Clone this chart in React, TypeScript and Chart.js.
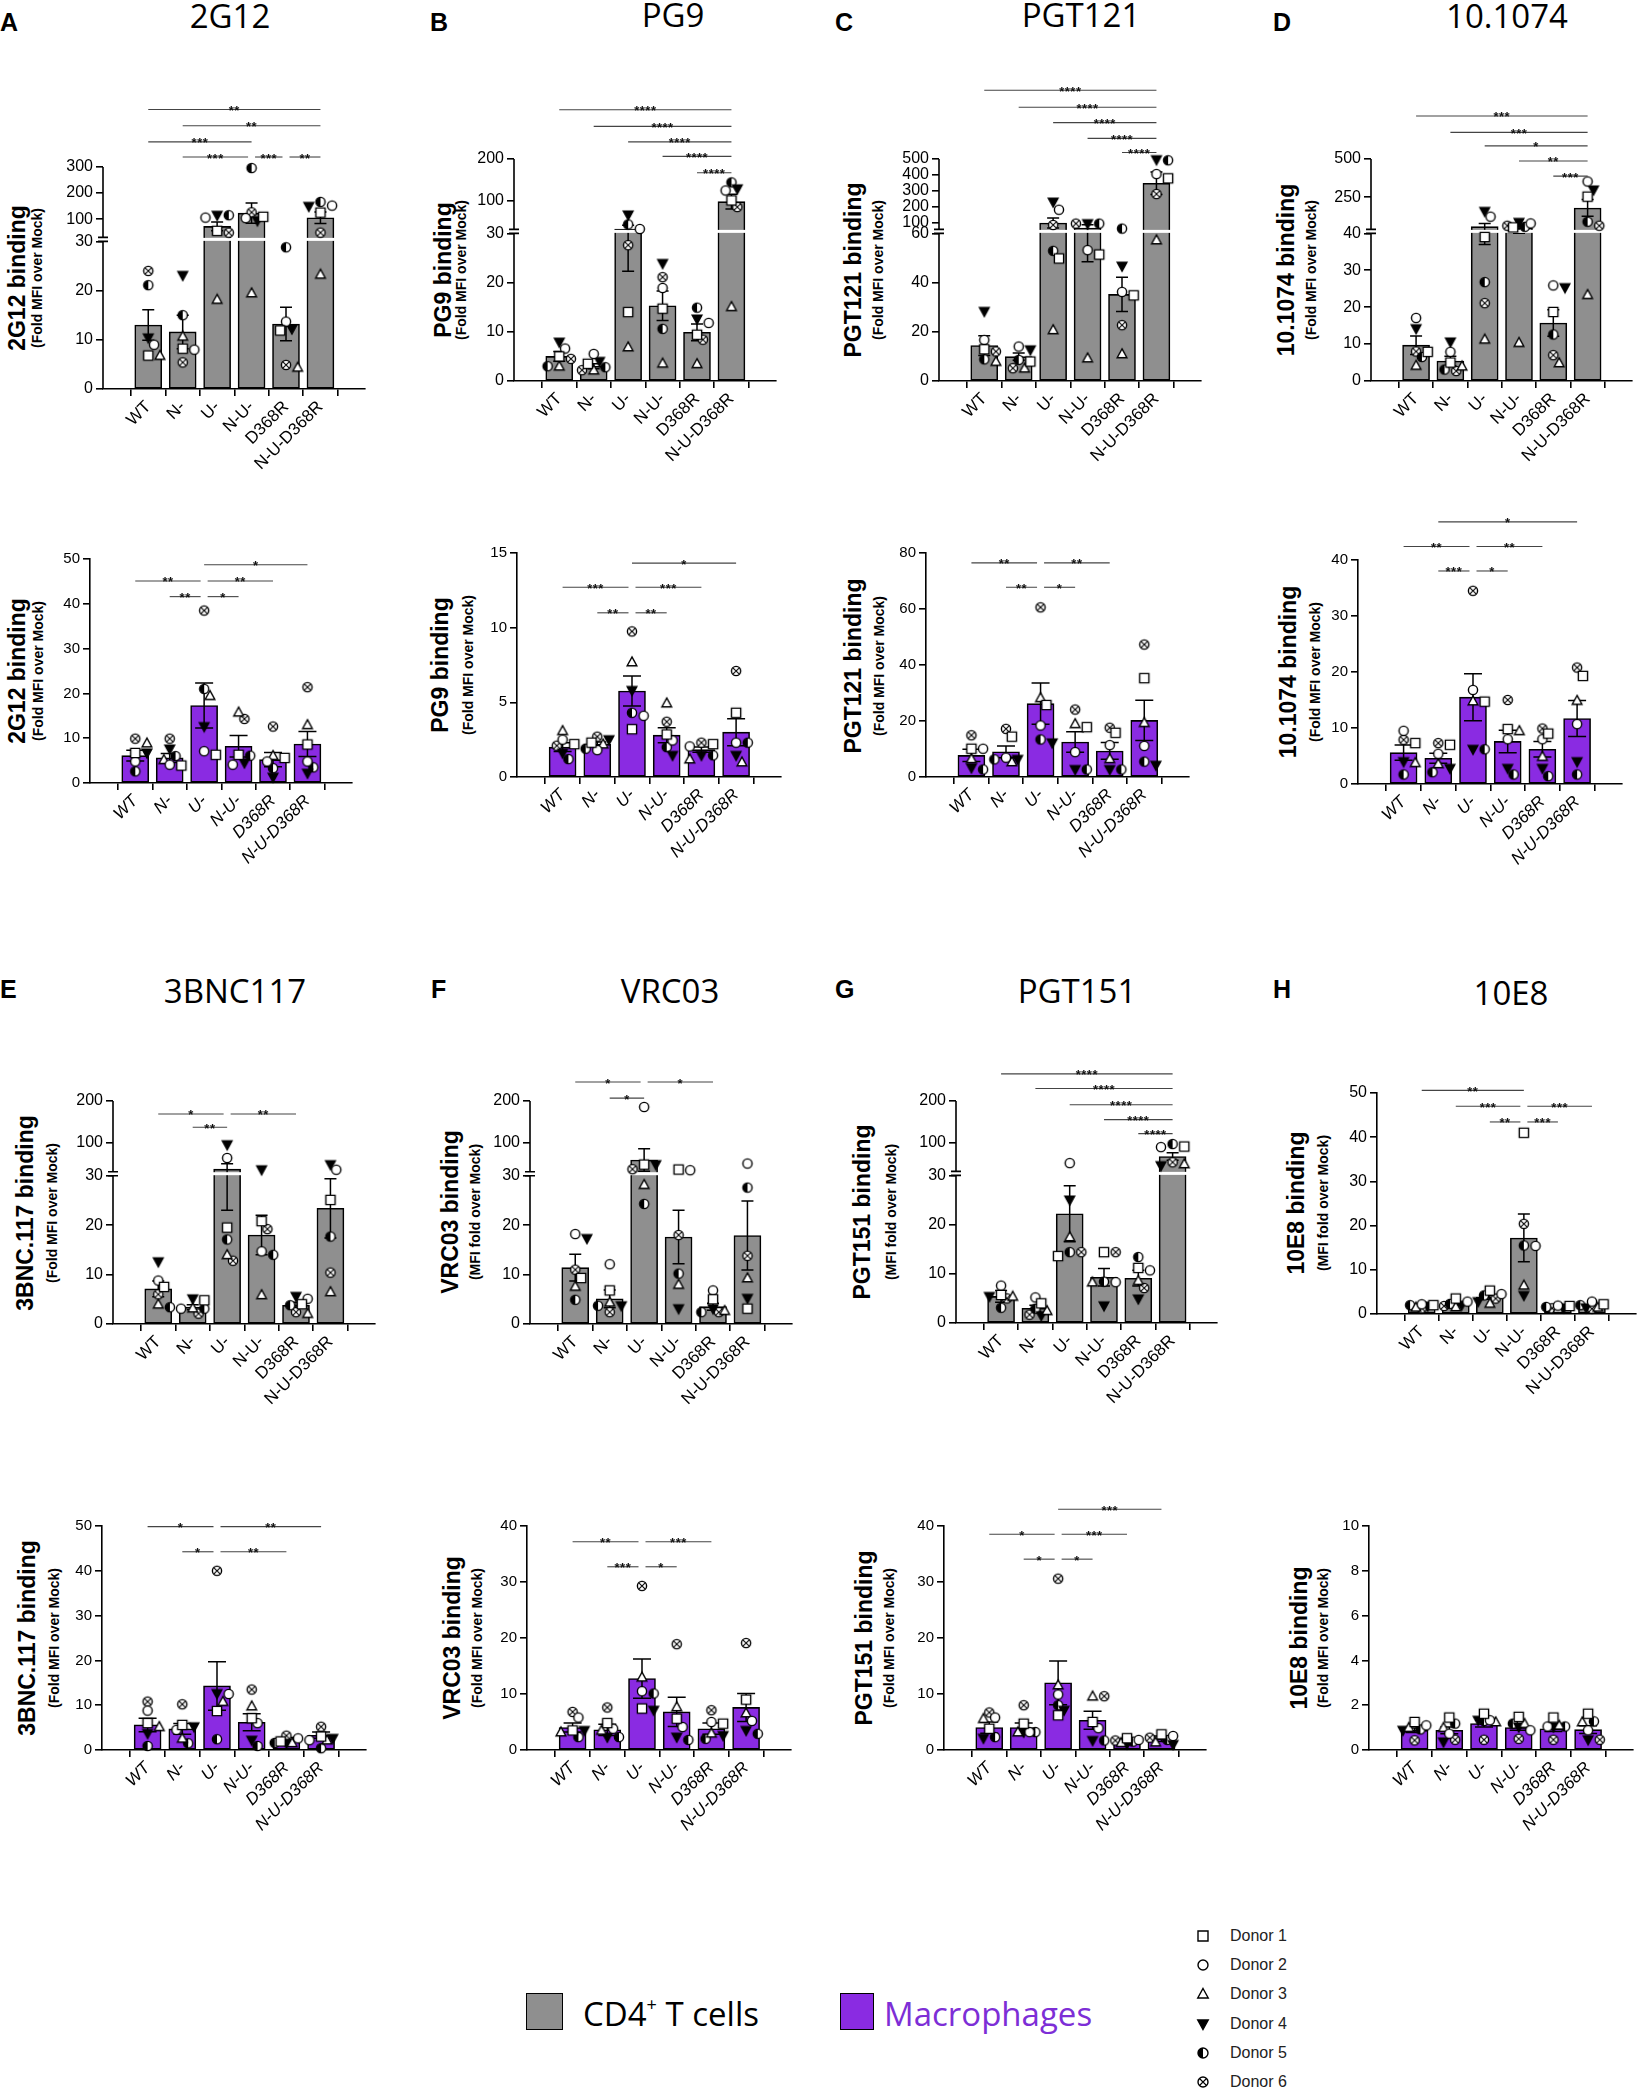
import React, { useEffect, useRef } from 'react';
import { Chart, registerables } from 'chart.js';

Chart.register(...registerables);

// ---------------- data ----------------
const CATEGORIES = ['WT', 'N-', 'U-', 'N-U-', 'D368R', 'N-U-D368R'];
const DONORS = ['Donor 1', 'Donor 2', 'Donor 3', 'Donor 4', 'Donor 5', 'Donor 6'];
const CELL_TYPES = ['CD4', 'Macrophages'];

// points: one row per category, columns = donors 1..6
// 2G12
const G12_CD4_MEAN = [13, 11.6, 72, 123, 13.2, 105];
const G12_CD4_SEM = [3.1, 3.4, 17, 39, 3.4, 22];
const G12_CD4_PTS = [[6.8, 9, 6.8, 10.4, 21.1, 24], [8.2, 8, 10.7, 23.1, 15, 5.4], [55, 106, 18.2, 115, 115, 48], [109, 104, 19.5, 94, 296, 126], [11.9, 13.7, 4.4, 12.2, 28.8, 4.9], [125, 152, 23.3, 149, 166, 48]];
const G12_CD4_TICKS_LO = [0, 10, 20, 30];
const G12_CD4_TICKS_HI = [100, 200, 300];
const G12_CD4_SIG = [[0, 5, '**', 1.259], [1, 5, '**', 1.186], [0, 3, '***', 1.113], [1, 3, '***', 1.045], [3, 4, '***', 1.045], [4, 5, '**', 1.045]];
const G12_MAC_MEAN = [6.1, 5.6, 17.3, 8.2, 5.2, 8.7];
const G12_MAC_SEM = [1.2, 1, 5, 2.4, 1.6, 2.8];
const G12_MAC_PTS = [[6.7, 4.8, 8.9, 6.7, 2.6, 9.9], [3.9, 4.1, 5.2, 7.6, 6, 9.9], [6.3, 7.1, 19.5, 12.6, 21, 38.5], [6.3, 4.1, 15.8, 4.5, 6.1, 14.3], [5.6, 4.8, 6.1, 1.3, 3.3, 12.6], [8.6, 4.8, 13, 2.2, 3.5, 21.4]];
const G12_MAC_TICKS = [0, 10, 20, 30, 40, 50];
const G12_MAC_SIG = [[2, 5, '*', 0.974], [0, 2, '**', 0.902], [2, 4, '**', 0.902], [1, 2, '**', 0.832], [2, 3, '*', 0.832]];

// PG9
const PG9_CD4_MEAN = [5, 3, 31, 15.3, 9.9, 97];
const PG9_CD4_SEM = [1, 0.5, 8.7, 3, 1.7, 18];
const PG9_CD4_PTS = [[5, 6.6, 3, 7.9, 3, 4.5], [3.5, 5.5, 2.2, 4, 2.8, 2.2], [14, 31, 6.9, 65, 42, 27.6], [14.7, 18.9, 3.6, 23.9, 10.6, 21.1], [9.4, 11.8, 3.5, 12.6, 14.9, 8.4], [100, 124, 15.1, 128, 143.5, 84]];
const PG9_CD4_TICKS_LO = [0, 10, 20, 30];
const PG9_CD4_TICKS_HI = [100, 200];
const PG9_CD4_SIG = [[0, 5, '****', 1.222], [1, 5, '****', 1.147], [2, 5, '****', 1.077], [3, 5, '****', 1.012], [4, 5, '****', 0.938]];
const PG9_MAC_MEAN = [2.0, 2.2, 5.76, 2.8, 1.83, 3.0];
const PG9_MAC_SEM = [0.3, 0.15, 1.0, 0.5, 0.18, 0.9];
const PG9_MAC_PTS = [[2.2, 2.5, 3.1, 1.6, 1.2, 2.1], [2.3, 1.8, 2.2, 2.5, 1.9, 2.7], [3.2, 4.1, 7.7, 5.8, 4.3, 9.75], [2.85, 2.45, 4.95, 1.45, 2, 3.7], [2.2, 2.05, 1.2, 1.45, 1.45, 2.3], [4.3, 2.3, 1.0, 1.45, 2.3, 7.1]];
const PG9_MAC_TICKS = [0, 5, 10, 15];
const PG9_MAC_SIG = [[2, 5, '*', 0.955], [0, 2, '***', 0.847], [2, 4, '***', 0.847], [1, 2, '**', 0.733], [2, 3, '**', 0.733]];

// PGT121
const P121_CD4_MEAN = [14.4, 9.9, 100, 68.5, 35.2, 348];
const P121_CD4_SEM = [4, 1.5, 31, 20, 7, 70];
const P121_CD4_PTS = [[12.9, 16.7, 7.9, 28.3, 8.8, 12], [7.9, 14, 5.2, 12.7, 8.6, 5.2], [49.8, 183, 20.8, 231, 52.9, 87.5], [51.4, 53.2, 9.3, 96, 96, 96], [34.8, 36.2, 11, 46.7, 65, 22.7], [379, 406, 57.3, 496, 492, 281]];
const P121_CD4_TICKS_LO = [0, 20, 40, 60];
const P121_CD4_TICKS_HI = [100, 200, 300, 400, 500];
const P121_CD4_SIG = [[0, 5, '****', 1.31], [1, 5, '****', 1.233], [2, 5, '****', 1.164], [3, 5, '****', 1.093], [4, 5, '****', 1.029]];
const P121_MAC_MEAN = [7.7, 9.0, 26.2, 12.5, 9.3, 20.2];
const P121_MAC_SEM = [2.2, 2.1, 7.4, 3.7, 3, 7.2];
const P121_MAC_PTS = [[10.1, 10.1, 6.5, 3.3, 2.7, 14.9], [14.4, 6.9, 5.4, 6.3, 6.3, 17.2], [25.7, 18.4, 28.3, 12.2, 13.4, 60.6], [17.8, 8.9, 19, 2.7, 2.7, 24.1], [15.8, 11.4, 6.5, 2.7, 2.7, 17.6], [35.3, 11.1, 19.4, 4.2, 5.5, 47.3]];
const P121_MAC_TICKS = [0, 20, 40, 60, 80];
const P121_MAC_SIG = [[0, 2, '**', 0.956], [2, 4, '**', 0.956], [1, 2, '**', 0.847], [2, 3, '*', 0.847]];

// 10.1074
const M1074_CD4_MEAN = [9.7, 5.4, 58, 50, 15.7, 180];
const M1074_CD4_SEM = [2.5, 1.3, 21, 10, 3.6, 55];
const M1074_CD4_PTS = [[7.9, 17.1, 4.2, 14.2, 6.5, 8], [5, 7.9, 4, 10.6, 3.1, 2.7], [39, 123, 11.3, 158, 26.8, 21.1], [53, 79, 10.4, 86, 57, 64], [18.7, 25.9, 4.9, 25.3, 12.6, 7], [254, 353, 23.4, 298, 90, 64]];
const M1074_CD4_TICKS_LO = [0, 10, 20, 30, 40];
const M1074_CD4_TICKS_HI = [250, 500];
const M1074_CD4_SIG = [[0, 5, '***', 1.194], [1, 5, '***', 1.12], [2, 5, '*', 1.059], [3, 5, '**', 0.991], [4, 5, '***', 0.923]];
const M1074_MAC_MEAN = [5.6, 4.6, 15.5, 7.6, 6.2, 11.7];
const M1074_MAC_SEM = [1.35, 0.9, 4.2, 2, 1.4, 3.2];
const M1074_MAC_PTS = [[7.3, 9.5, 3.8, 4, 1.7, 7.9], [7, 5.4, 3.6, 2.8, 2.1, 7.3], [14.7, 16.8, 14.8, 6.2, 6.2, 34.5], [9.8, 8, 9.5, 2.8, 1.7, 15], [9, 8, 4.9, 2.8, 1.4, 9.9], [19.3, 10.7, 14.9, 4, 1.7, 20.8]];
const M1074_MAC_TICKS = [0, 10, 20, 30, 40];
const M1074_MAC_SIG = [[1, 5, '*', 1.17], [0, 2, '**', 1.06], [2, 4, '**', 1.06], [1, 2, '***', 0.951], [2, 3, '*', 0.951]];

// 3BNC117
const B117_CD4_MEAN = [7.1, 3.4, 36, 18, 3.8, 23.4];
const B117_CD4_SEM = [1.6, 0.5, 13, 4, 0.6, 6];
const B117_CD4_PTS = [[7.5, 8.8, 4, 12.6, 3.4, 6], [4.8, 3.1, 3.2, 5.1, 3.1, 2.1], [19.5, 63, 14, 95, 17.1, 12.8], [20.8, 14.7, 5.9, 34.8, 14, 19.2], [4, 5.1, 2.1, 5.6, 3.8, 2.4], [25.1, 34.8, 6.5, 47, 17.7, 10.4]];
const B117_CD4_TICKS_LO = [0, 10, 20, 30];
const B117_CD4_TICKS_HI = [100, 200];
const B117_CD4_SIG = [[0, 2, '*', 0.942], [1, 2, '**', 0.882], [2, 4, '**', 0.942]];
const B117_MAC_MEAN = [5.6, 4.7, 14.3, 6.2, 2.4, 3.3];
const B117_MAC_SEM = [1.5, 1.2, 5.4, 1.9, 0.4, 0.7];
const B117_MAC_PTS = [[6, 8.8, 5.2, 3.7, 0.9, 10.8], [5.6, 4.5, 2.6, 5.2, 1.5, 10.2], [8.7, 12.5, 10.8, 12.6, 2.4, 40], [7.1, 6, 9.8, 2.2, 0.9, 13.5], [1.9, 2.6, 1.6, 1.5, 1.6, 3.2], [3, 2.2, 2.2, 2.6, 0.4, 5.2]];
const B117_MAC_TICKS = [0, 10, 20, 30, 40, 50];
const B117_MAC_SIG = [[0, 2, '*', 0.997], [2, 5, '**', 0.997], [1, 2, '*', 0.885], [2, 4, '**', 0.885]];

// VRC03
const VRC03_CD4_MEAN = [11.4, 5.1, 58, 17.6, 3.5, 17.9];
const VRC03_CD4_SEM = [2.7, 1.8, 27, 5.4, 0.7, 7];
const VRC03_CD4_PTS = [[9.3, 18.2, 7.6, 17.3, 4.9, 11], [6.8, 12.1, 4.4, 3.7, 3.7, 2.4], [47, 185.6, 28.2, 47, 24.3, 36], [35.2, 33.6, 8, 3.1, 10.2, 18], [5, 6.8, 2.7, 3.1, 2.4, 2.4], [3.1, 49.6, 9.3, 5.2, 27.6, 13.8]];
const VRC03_CD4_TICKS_LO = [0, 10, 20, 30];
const VRC03_CD4_TICKS_HI = [100, 200];
const VRC03_CD4_SIG = [[0, 2, '*', 1.085], [1, 2, '*', 1.013], [2, 4, '*', 1.085]];
const VRC03_MAC_MEAN = [4, 3.6, 12.75, 6.8, 3.8, 7.6];
const VRC03_MAC_SEM = [0.8, 1, 3.5, 2.6, 1, 2.5];
const VRC03_MAC_PTS = [[3.5, 5.8, 3.2, 3.5, 2.3, 6.8], [4.8, 3.8, 3.5, 2.3, 2.3, 7.6], [7.4, 10.5, 13, 7.1, 10.1, 29.3], [5.6, 4.1, 7.7, 2.3, 1.8, 18.9], [4.7, 5, 3, 2.6, 2, 7.1], [9, 5.2, 6.6, 3.5, 2.9, 19.1]];
const VRC03_MAC_TICKS = [0, 10, 20, 30, 40];
const VRC03_MAC_SIG = [[0, 2, '**', 0.93], [2, 4, '***', 0.93], [1, 2, '***', 0.818], [2, 3, '*', 0.818]];

// PGT151
const P151_CD4_MEAN = [5.4, 3, 22.2, 9.3, 9.1, 66];
const P151_CD4_SEM = [1.2, 0.6, 5.7, 1.8, 1.6, 9];
const P151_CD4_PTS = [[5.7, 7.6, 5.4, 5.4, 3.1, 5], [4, 5.2, 2.5, 1.5, 2.9, 1.7], [13.6, 50, 17.5, 25, 14.4, 14.4], [14.4, 8.3, 8.3, 3.5, 8.4, 14.4], [11.2, 10.7, 8.6, 4.9, 13.4, 7.1], [90, 88.7, 48, 44, 96, 52]];
const P151_CD4_TICKS_LO = [0, 10, 20, 30];
const P151_CD4_TICKS_HI = [100, 200];
const P151_CD4_SIG = [[0, 5, '****', 1.122], [1, 5, '****', 1.056], [2, 5, '****', 0.983], [3, 5, '****', 0.916], [4, 5, '****', 0.853]];
const P151_MAC_MEAN = [4, 4, 12, 5.3, 1.6, 2];
const P151_MAC_SEM = [1, 0.8, 3.9, 1.6, 0.3, 0.5];
const P151_MAC_PTS = [[3.8, 5.8, 5.6, 2.1, 2.3, 6.7], [4.7, 3.2, 3.2, 3.2, 3.2, 8], [6.2, 9.9, 11.6, 7.1, 8, 30.6], [5, 3.9, 9.6, 1.7, 1.7, 9.6], [2.1, 1.8, 1.3, 1.1, 1.5, 1.7], [2.8, 2.5, 1.4, 1.0, 1.8, 2.2]];
const P151_MAC_TICKS = [0, 10, 20, 30, 40];
const P151_MAC_SIG = [[2, 5, '***', 1.075], [0, 2, '*', 0.963], [2, 4, '***', 0.963], [1, 2, '*', 0.852], [2, 3, '*', 0.852]];

// 10E8
const E8_CD4_MEAN = [1.8, 2.3, 3.8, 17.2, 1.5, 1.85];
const E8_CD4_SEM = [0.15, 0.3, 0.45, 5.4, 0.12, 0.25];
const E8_CD4_PTS = [[2, 2.2, 1.5, 1.8, 2.0, 1.3], [3.5, 2.8, 1.6, 2.0, 2.3, 1.8], [5.3, 4.5, 2.4, 2.8, 4.2, 3.5], [41, 15.4, 6.5, 4.2, 15.5, 20.4], [1.8, 1.9, 1.2, 1.4, 1.6, 1.3], [2.2, 2.8, 1.5, 1.4, 2.0, 1.2]];
const E8_CD4_TICKS = [0, 10, 20, 30, 40, 50];
const E8_CD4_SIG = [[0, 3, '**', 1.012], [1, 3, '***', 0.94], [3, 5, '***', 0.94], [2, 3, '**', 0.869], [3, 4, '***', 0.869]];
const E8_MAC_MEAN = [0.88, 0.88, 1.18, 1.0, 0.95, 0.91];
const E8_MAC_SEM = [0.1, 0.15, 0.15, 0.12, 0.12, 0.17];
const E8_MAC_PTS = [[1.25, 1.1, 1.0, 0.88, 0.92, 0.43], [1.45, 0.73, 1.0, 0.36, 1.18, 0.46], [1.62, 1.33, 1.25, 1.33, 1.3, 0.46], [1.48, 0.88, 1.18, 1.03, 1.18, 0.5], [1.45, 1.05, 1.1, 1.03, 1.05, 0.46], [1.62, 0.88, 1.25, 0.46, 1.28, 0.46]];
const E8_MAC_TICKS = [0, 2, 4, 6, 8, 10];
const E8_MAC_SIG: any[] = [];

// ---------------- styles / layout ----------------
const GRAY = '#8f8f8f';
const PURPLE = '#8a2be2';
const PADL = 50, PADR = 14, PADT = 140, PADB = 115;
const XMIN = -0.68, XMAX = 5.66;
const LF = 0.665, GAP = 0.018;
const FONT = "'Liberation Sans', Arial, sans-serif";
const NARROW = "'Liberation Sans Narrow', 'Liberation Sans', Arial, sans-serif";
const TITLE_FONT = "'Open Sans', 'Noto Sans', sans-serif";
const SUB_FOLD = '(Fold MFI over Mock)';
const SUB_MFI = '(MFI fold over Mock)';

type Axis = { brk?: number; top?: number; lo?: number[]; hi?: number[]; max?: number; ticks?: number[] };
type PanelDef = {
  key: string; cell: number; mean: number[]; sem: number[]; pts: number[][]; sig: any[]; axis: Axis;
  L: number; T: number; B: number; W: number; ytitle: [string, string]; ytx: [number, number];
};

const PANELS: PanelDef[] = [
  { key: 'A1', cell: 0, mean: G12_CD4_MEAN, sem: G12_CD4_SEM, pts: G12_CD4_PTS, sig: G12_CD4_SIG, axis: { brk: 30, top: 300, lo: G12_CD4_TICKS_LO, hi: G12_CD4_TICKS_HI }, L: 102.7, T: 166.7, B: 388.3, W: 262, ytitle: ['2G12 binding', SUB_FOLD], ytx: [17, 37] },
  { key: 'B1', cell: 0, mean: PG9_CD4_MEAN, sem: PG9_CD4_SEM, pts: PG9_CD4_PTS, sig: PG9_CD4_SIG, axis: { brk: 30, top: 200, lo: PG9_CD4_TICKS_LO, hi: PG9_CD4_TICKS_HI }, L: 514.3, T: 158.7, B: 380.7, W: 262, ytitle: ['PG9 binding', SUB_FOLD], ytx: [443, 461] },
  { key: 'C1', cell: 0, mean: P121_CD4_MEAN, sem: P121_CD4_SEM, pts: P121_CD4_PTS, sig: P121_CD4_SIG, axis: { brk: 60, top: 500, lo: P121_CD4_TICKS_LO, hi: P121_CD4_TICKS_HI }, L: 938.7, T: 159.3, B: 381, W: 262, ytitle: ['PGT121 binding', SUB_FOLD], ytx: [853, 878] },
  { key: 'D1', cell: 0, mean: M1074_CD4_MEAN, sem: M1074_CD4_SEM, pts: M1074_CD4_PTS, sig: M1074_CD4_SIG, axis: { brk: 40, top: 500, lo: M1074_CD4_TICKS_LO, hi: M1074_CD4_TICKS_HI }, L: 1370.7, T: 158.7, B: 380.7, W: 261, ytitle: ['10.1074 binding', SUB_FOLD], ytx: [1286, 1311] },
  { key: 'A2', cell: 1, mean: G12_MAC_MEAN, sem: G12_MAC_SEM, pts: G12_MAC_PTS, sig: G12_MAC_SIG, axis: { max: 50, ticks: G12_MAC_TICKS }, L: 90.2, T: 559.3, B: 783.3, W: 262, ytitle: ['2G12 binding', SUB_FOLD], ytx: [17, 38] },
  { key: 'B2', cell: 1, mean: PG9_MAC_MEAN, sem: PG9_MAC_SEM, pts: PG9_MAC_PTS, sig: PG9_MAC_SIG, axis: { max: 15, ticks: PG9_MAC_TICKS }, L: 516.5, T: 552.7, B: 776.7, W: 264, ytitle: ['PG9 binding', SUB_FOLD], ytx: [440, 468] },
  { key: 'C2', cell: 1, mean: P121_MAC_MEAN, sem: P121_MAC_SEM, pts: P121_MAC_PTS, sig: P121_MAC_SIG, axis: { max: 80, ticks: P121_MAC_TICKS }, L: 925.5, T: 553.3, B: 777.7, W: 263, ytitle: ['PGT121 binding', SUB_FOLD], ytx: [853, 879] },
  { key: 'D2', cell: 1, mean: M1074_MAC_MEAN, sem: M1074_MAC_SEM, pts: M1074_MAC_PTS, sig: M1074_MAC_SIG, axis: { max: 40, ticks: M1074_MAC_TICKS }, L: 1358.1, T: 560, B: 784, W: 264, ytitle: ['10.1074 binding', SUB_FOLD], ytx: [1288, 1315] },
  { key: 'E1', cell: 0, mean: B117_CD4_MEAN, sem: B117_CD4_SEM, pts: B117_CD4_PTS, sig: B117_CD4_SIG, axis: { brk: 30, top: 200, lo: B117_CD4_TICKS_LO, hi: B117_CD4_TICKS_HI }, L: 113, T: 1101, B: 1324.3, W: 262, ytitle: ['3BNC.117 binding', SUB_FOLD], ytx: [25, 52] },
  { key: 'F1', cell: 0, mean: VRC03_CD4_MEAN, sem: VRC03_CD4_SEM, pts: VRC03_CD4_PTS, sig: VRC03_CD4_SIG, axis: { brk: 30, top: 200, lo: VRC03_CD4_TICKS_LO, hi: VRC03_CD4_TICKS_HI }, L: 529.7, T: 1100.7, B: 1323.3, W: 262, ytitle: ['VRC03 binding', SUB_MFI], ytx: [450, 475] },
  { key: 'G1', cell: 0, mean: P151_CD4_MEAN, sem: P151_CD4_SEM, pts: P151_CD4_PTS, sig: P151_CD4_SIG, axis: { brk: 30, top: 200, lo: P151_CD4_TICKS_LO, hi: P151_CD4_TICKS_HI }, L: 955.7, T: 1100.7, B: 1322.3, W: 261, ytitle: ['PGT151 binding', SUB_MFI], ytx: [862, 891] },
  { key: 'H1', cell: 0, mean: E8_CD4_MEAN, sem: E8_CD4_SEM, pts: E8_CD4_PTS, sig: E8_CD4_SIG, axis: { max: 50, ticks: E8_CD4_TICKS }, L: 1376.7, T: 1092.7, B: 1313.7, W: 259, ytitle: ['10E8 binding', SUB_MFI], ytx: [1296, 1323] },
  { key: 'E2', cell: 1, mean: B117_MAC_MEAN, sem: B117_MAC_SEM, pts: B117_MAC_PTS, sig: B117_MAC_SIG, axis: { max: 50, ticks: B117_MAC_TICKS }, L: 102.3, T: 1526, B: 1750, W: 264, ytitle: ['3BNC.117 binding', SUB_FOLD], ytx: [27, 54] },
  { key: 'F2', cell: 1, mean: VRC03_MAC_MEAN, sem: VRC03_MAC_SEM, pts: VRC03_MAC_PTS, sig: VRC03_MAC_SIG, axis: { max: 40, ticks: VRC03_MAC_TICKS }, L: 527, T: 1526, B: 1749.7, W: 264, ytitle: ['VRC03 binding', SUB_FOLD], ytx: [452, 477] },
  { key: 'G2', cell: 1, mean: P151_MAC_MEAN, sem: P151_MAC_SEM, pts: P151_MAC_PTS, sig: P151_MAC_SIG, axis: { max: 40, ticks: P151_MAC_TICKS }, L: 943.9, T: 1526, B: 1749.7, W: 262, ytitle: ['PGT151 binding', SUB_FOLD], ytx: [864, 889] },
  { key: 'H2', cell: 1, mean: E8_MAC_MEAN, sem: E8_MAC_SEM, pts: E8_MAC_PTS, sig: E8_MAC_SIG, axis: { max: 10, ticks: E8_MAC_TICKS }, L: 1368.6, T: 1526, B: 1749.7, W: 264, ytitle: ['10E8 binding', SUB_FOLD], ytx: [1299, 1323] },
];

const LETTERS: [string, number, number][] = [
  ['A', 0, 31], ['B', 430, 31], ['C', 835, 31], ['D', 1273, 31],
  ['E', 0, 998], ['F', 431, 998], ['G', 835, 998], ['H', 1273, 998],
];
const TITLES: [string, number, number][] = [
  ['2G12', 230, 28], ['PG9', 673, 27], ['PGT121', 1081, 27], ['10.1074', 1507, 28],
  ['3BNC117', 235, 1003], ['VRC03', 670, 1003], ['PGT151', 1077, 1003], ['10E8', 1511, 1005],
];

// ---------------- helpers ----------------
function makeF(ax: Axis) {
  if (ax.max !== undefined) return (v: number) => v / (ax.max as number);
  const brk = ax.brk as number, top = ax.top as number;
  return (v: number) => (v <= brk ? (v / brk) * LF : LF + GAP + ((v - brk) / (top - brk)) * (1 - LF - GAP));
}

function swarm(vals: number[], f: (v: number) => number, plotH: number, pxPerCat: number) {
  const n = vals.length;
  const ys = vals.map((v) => f(v) * plotH);
  const order = Array.from({ length: n }, (_, i) => i).sort((a, b) => ys[b] - ys[a]);
  const placed: { x: number; y: number }[] = [];
  const res = new Array(n).fill(0);
  const D = 7, R = 8.5;
  const cands = [0, D, -D, 2 * D, -2 * D];
  for (const i of order) {
    let chosen = 0, bestScore = -1;
    for (const c of cands) {
      const md = placed.length ? Math.min(...placed.map((p) => Math.hypot(p.x - c, p.y - ys[i]))) : 1e9;
      if (md >= R) { chosen = c; bestScore = 1e9; break; }
      if (md > bestScore) { bestScore = md; chosen = c; }
    }
    placed.push({ x: chosen, y: ys[i] });
    res[i] = chosen / pxPerCat;
  }
  return res;
}

function drawMarker(g: CanvasRenderingContext2D, kind: number, cx: number, cy: number, r: number) {
  g.save();
  g.lineWidth = 1.4;
  g.strokeStyle = '#000';
  g.fillStyle = '#fff';
  g.beginPath();
  if (kind === 0) {
    g.rect(cx - r, cy - r, 2 * r, 2 * r); g.fill(); g.stroke();
  } else if (kind === 1) {
    g.arc(cx, cy, r, 0, Math.PI * 2); g.fill(); g.stroke();
  } else if (kind === 2) {
    g.moveTo(cx, cy - r * 1.1); g.lineTo(cx + r * 1.05, cy + r * 0.8); g.lineTo(cx - r * 1.05, cy + r * 0.8); g.closePath(); g.fill(); g.stroke();
  } else if (kind === 3) {
    g.fillStyle = '#000';
    g.moveTo(cx, cy + r * 1.1); g.lineTo(cx + r * 1.05, cy - r * 0.8); g.lineTo(cx - r * 1.05, cy - r * 0.8); g.closePath(); g.fill(); g.stroke();
  } else if (kind === 4) {
    g.arc(cx, cy, r, 0, Math.PI * 2); g.fill();
    g.beginPath(); g.arc(cx, cy, r, Math.PI / 2, Math.PI * 1.5); g.closePath(); g.fillStyle = '#000'; g.fill();
    g.beginPath(); g.arc(cx, cy, r, 0, Math.PI * 2); g.stroke();
  } else {
    g.arc(cx, cy, r, 0, Math.PI * 2); g.fill(); g.stroke();
    const d = r * 0.7;
    g.beginPath(); g.lineWidth = 1.1;
    g.moveTo(cx - d, cy - d); g.lineTo(cx + d, cy + d); g.moveTo(cx + d, cy - d); g.lineTo(cx - d, cy + d); g.stroke();
  }
  g.restore();
}

let MARKERS: HTMLCanvasElement[] | null = null;
function getMarkers() {
  if (MARKERS) return MARKERS;
  MARKERS = DONORS.map((_, k) => {
    const c = document.createElement('canvas');
    c.width = 14; c.height = 14;
    drawMarker(c.getContext('2d') as CanvasRenderingContext2D, k, 7, 7, 4.6);
    return c;
  });
  return MARKERS;
}

// ---------------- panel ----------------
function Panel({ p }: { p: PanelDef }) {
  const ref = useRef<HTMLCanvasElement>(null);
  const plotH = p.B - p.T;
  const cw = Math.round(PADL + p.W + PADR);
  const ch = Math.round(PADT + plotH + PADB);
  useEffect(() => {
    const canvas = ref.current as HTMLCanvasElement;
    const f = makeF(p.axis);
    const broken = p.axis.max === undefined;
    const pxPerCat = p.W / (XMAX - XMIN);
    const tickVals = broken ? [...(p.axis.lo as number[]), ...(p.axis.hi as number[])] : (p.axis.ticks as number[]);
    const tickLabels = tickVals.map(String);
    const markers = getMarkers();
    const isMac = p.cell === 1;
    const offs = p.pts.map((row) => swarm(row, f, plotH, pxPerCat));
    const datasets: any[] = [{
      type: 'bar',
      label: CELL_TYPES[p.cell],
      data: p.mean.map((m, i) => ({ x: i, y: f(m) })),
      backgroundColor: isMac ? PURPLE : GRAY,
      borderColor: '#000',
      borderWidth: 1.6,
      borderSkipped: false,
      barThickness: 27,
      order: 10,
    }];
    DONORS.forEach((name, d) => {
      datasets.push({
        type: 'scatter',
        label: name,
        data: p.pts.map((row, i) => ({ x: i + offs[i][d], y: f(row[d]) })),
        pointStyle: markers[d],
        pointRadius: 5,
        order: 1,
        clip: false,
      });
    });
    const capHalf = isMac ? 9 : 6;
    const deco = {
      id: 'deco' + p.key,
      afterDatasetDraw(chart: any, args: any) {
        if (args.meta.type !== 'bar') return;
        const { ctx, chartArea, scales } = chart;
        const x = scales.x, y = scales.y;
        ctx.save();
        ctx.strokeStyle = '#000';
        ctx.lineWidth = 1.5;
        p.mean.forEach((m, i) => {
          const px = x.getPixelForValue(i);
          const yHi = y.getPixelForValue(f(m + p.sem[i]));
          const yLo = y.getPixelForValue(f(Math.max(0, m - p.sem[i])));
          ctx.beginPath();
          ctx.moveTo(px, yHi); ctx.lineTo(px, yLo);
          ctx.moveTo(px - capHalf, yHi); ctx.lineTo(px + capHalf, yHi);
          ctx.moveTo(px - capHalf, yLo); ctx.lineTo(px + capHalf, yLo);
          ctx.stroke();
        });
        if (broken) {
          const y1 = y.getPixelForValue(LF), y2 = y.getPixelForValue(LF + GAP);
          ctx.fillStyle = '#fff';
          ctx.fillRect(chartArea.left + 1, y2 + 0.5, chartArea.right - chartArea.left, y1 - y2 - 1);
        }
        ctx.restore();
      },
      afterDraw(chart: any) {
        const { ctx, chartArea, scales } = chart;
        const x = scales.x, y = scales.y;
        ctx.save();
        if (broken) {
          const ax = chartArea.left;
          const y1 = y.getPixelForValue(LF), y2 = y.getPixelForValue(LF + GAP);
          ctx.strokeStyle = '#000';
          ctx.lineWidth = 1.6;
          ctx.beginPath();
          ctx.moveTo(ax, chartArea.bottom); ctx.lineTo(ax, y1);
          ctx.moveTo(ax, y2); ctx.lineTo(ax, chartArea.top);
          ctx.moveTo(ax - 5, y1); ctx.lineTo(ax + 5, y1);
          ctx.moveTo(ax - 5, y2); ctx.lineTo(ax + 5, y2);
          ctx.stroke();
        }
        // significance brackets
        ctx.strokeStyle = '#444';
        ctx.lineWidth = 1.1;
        ctx.fillStyle = '#111';
        ctx.font = `bold 13px ${FONT}`;
        ctx.textAlign = 'center';
        ctx.textBaseline = 'alphabetic';
        try { (ctx as any).letterSpacing = '0.5px'; } catch (e) { /* ignore */ }
        p.sig.forEach((s: any, k: number) => {
          const [a, b, lab, lv] = s;
          const shares = (e: number) => p.sig.some((o: any, j: number) => j !== k && Math.abs(o[3] - lv) < 0.005 && (o[0] === e || o[1] === e));
          const x1 = x.getPixelForValue(a) + (shares(a) ? 3.5 : 0);
          const x2 = x.getPixelForValue(b) - (shares(b) ? 3.5 : 0);
          const yy = y.getPixelForValue(lv);
          ctx.beginPath();
          ctx.moveTo(x1, yy); ctx.lineTo(x2, yy);
          ctx.stroke();
          ctx.fillText(lab, (x1 + x2) / 2, yy + 5.5);
        });
        ctx.restore();
      },
    };
    const tickFont = isMac ? { family: NARROW, size: 15 } : { family: FONT, size: 16 };
    const xFont = isMac ? { family: NARROW, size: 17, style: 'italic' as const } : { family: FONT, size: 17 };
    const chart = new Chart(canvas, {
      type: 'bar',
      data: { datasets },
      options: {
        responsive: false,
        animation: false,
        events: [],
        layout: { padding: { top: PADT, right: PADR, left: 0, bottom: 0 } },
        plugins: { legend: { display: false }, tooltip: { enabled: false }, title: { display: false } },
        scales: {
          x: {
            type: 'linear', min: XMIN, max: XMAX, bounds: 'data',
            afterBuildTicks: (s: any) => { s.ticks = CATEGORIES.map((_, i) => ({ value: i })); },
            afterFit: (s: any) => { s.height = PADB; },
            ticks: { autoSkip: false, minRotation: 45, maxRotation: 45, callback: (_v: any, i: number) => CATEGORIES[i], color: '#000', font: xFont, padding: 1 },
            grid: { display: true, drawOnChartArea: false, drawTicks: true, tickLength: 7, color: '#000', lineWidth: 1.6 },
            border: { display: true, color: '#000', width: 1.6 },
          },
          y: {
            type: 'linear', min: 0, max: 1, bounds: 'data',
            afterBuildTicks: (s: any) => { s.ticks = tickVals.map((v) => ({ value: f(v) })); },
            afterFit: (s: any) => { s.width = PADL; },
            ticks: { autoSkip: false, callback: (_v: any, i: number) => tickLabels[i], color: '#000', font: tickFont, padding: 3 },
            grid: { display: true, drawOnChartArea: false, drawTicks: true, tickLength: 7, color: '#000', lineWidth: 1.6 },
            border: { display: !broken, color: '#000', width: 1.6 },
          },
        },
      } as any,
      plugins: [deco],
    });
    return () => chart.destroy();
  }, []);
  return (
    <canvas
      ref={ref}
      width={cw}
      height={ch}
      style={{ position: 'absolute', left: p.L - PADL, top: p.T - PADT, width: cw, height: ch }}
    />
  );
}

function YTitle({ p }: { p: PanelDef }) {
  const cy = (p.T + p.B) / 2;
  const base: React.CSSProperties = {
    position: 'absolute', top: cy, transform: 'translate(-50%, -50%) rotate(-90deg)', whiteSpace: 'nowrap',
    fontFamily: FONT, fontWeight: 'bold', lineHeight: 1, color: '#000',
  };
  return (
    <>
      <div style={{ ...base, left: p.ytx[0], fontSize: 23 }}>{p.ytitle[0]}</div>
      <div style={{ ...base, left: p.ytx[1], fontSize: 14 }}>{p.ytitle[1]}</div>
    </>
  );
}

function LegendMarker({ kind, x, y }: { kind: number; x: number; y: number }) {
  const ref = useRef<HTMLCanvasElement>(null);
  useEffect(() => {
    const c = ref.current as HTMLCanvasElement;
    const g = c.getContext('2d') as CanvasRenderingContext2D;
    g.clearRect(0, 0, 18, 18);
    drawMarker(g, kind, 9, 9, 5);
  }, [kind]);
  return <canvas ref={ref} width={18} height={18} style={{ position: 'absolute', left: x - 9, top: y - 9, width: 18, height: 18 }} />;
}

function Legend() {
  const rowY = (k: number) => 1936 + k * 29.2;
  return (
    <>
      <div style={{ position: 'absolute', left: 526, top: 1993, width: 37, height: 37, background: GRAY, border: '1.6px solid #000', boxSizing: 'border-box' }} />
      <div style={{ position: 'absolute', left: 583, top: 2026 - 0.888 * 33, fontFamily: TITLE_FONT, fontSize: 33, lineHeight: 1, whiteSpace: 'nowrap', color: '#000' }}>
        CD4<span style={{ fontSize: 18, verticalAlign: 'top', lineHeight: 1, position: 'relative', top: -2 }}>+</span> T cells
      </div>
      <div style={{ position: 'absolute', left: 840, top: 1993, width: 34, height: 37, background: PURPLE, border: '1.6px solid #000', boxSizing: 'border-box' }} />
      <div style={{ position: 'absolute', left: 884, top: 2026 - 0.888 * 33, fontFamily: TITLE_FONT, fontSize: 33, lineHeight: 1, whiteSpace: 'nowrap', color: '#7d2ed6' }}>
        {CELL_TYPES[1]}
      </div>
      {DONORS.map((d, k) => (
        <React.Fragment key={d}>
          <LegendMarker kind={k} x={1203} y={rowY(k)} />
          <div style={{ position: 'absolute', left: 1230, top: rowY(k) - 8, fontFamily: FONT, fontSize: 16, lineHeight: 1, whiteSpace: 'nowrap', color: '#222' }}>{d}</div>
        </React.Fragment>
      ))}
    </>
  );
}

export default function App() {
  return (
    <div style={{ position: 'absolute', left: 0, top: 0, width: 1637, height: 2100, background: '#fff', overflow: 'hidden' }}>
      {LETTERS.map(([t, x, by]) => (
        <div key={t} style={{ position: 'absolute', left: x, top: by - 0.8465 * 25, fontFamily: FONT, fontWeight: 'bold', fontSize: 25, lineHeight: 1, color: '#000' }}>{t}</div>
      ))}
      {TITLES.map(([t, cx, by]) => (
        <div key={t} style={{ position: 'absolute', left: cx, top: by - 0.888 * 33, transform: 'translateX(-50%)', fontFamily: TITLE_FONT, fontSize: 33, lineHeight: 1, whiteSpace: 'nowrap', color: '#000' }}>{t}</div>
      ))}
      {PANELS.map((p) => <YTitle key={'t' + p.key} p={p} />)}
      {PANELS.map((p) => <Panel key={p.key} p={p} />)}
      <Legend />
    </div>
  );
}
